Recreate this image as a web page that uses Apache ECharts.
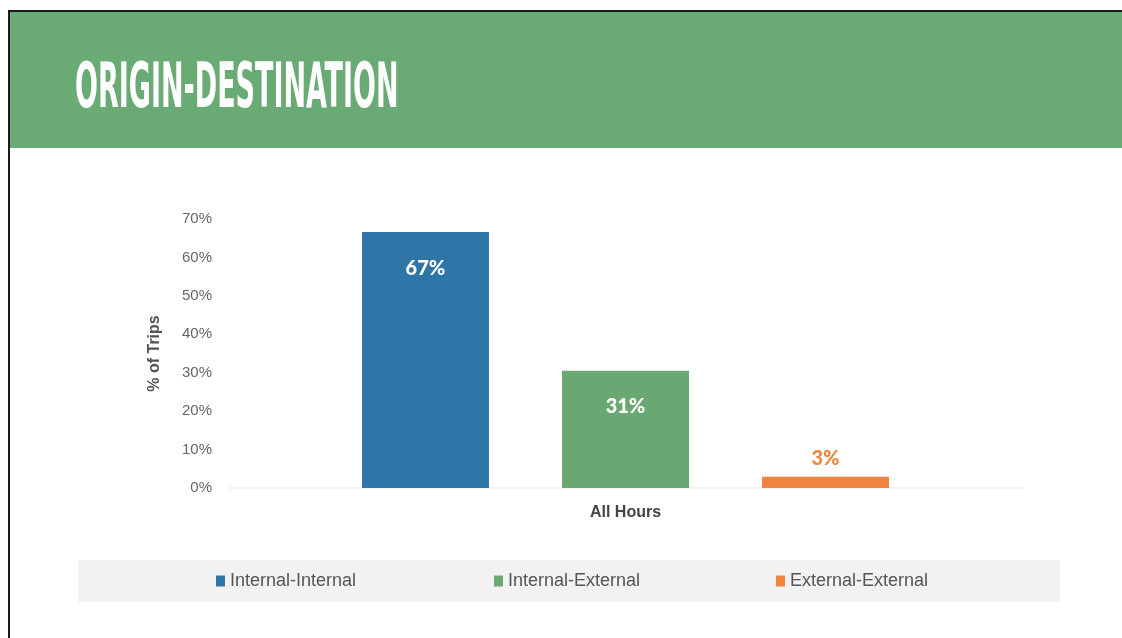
<!DOCTYPE html>
<html>
<head>
<meta charset="utf-8">
<script src="https://cdn.jsdelivr.net/npm/echarts@6/dist/echarts.min.js"></script>
<style>
html,body{margin:0;padding:0;background:#fff;}
#chart{width:1122px;height:638px;}
</style>
</head>
<body>
<div id="chart"></div>
<script>
const titleText = 'ORIGIN-DESTINATION';
const categories = ['All Hours'];
const seriesNames = ['Internal-Internal', 'Internal-External', 'External-External'];
const internalInternal = [66.6];
const internalExternal = [30.5];
const externalExternal = [2.9];
const labelTexts = ['67%', '31%', '3%'];
const yTicks = [0, 10, 20, 30, 40, 50, 60, 70];
const colors = ['#2e75a8', '#69a873', '#f08540'];

const chart = echarts.init(document.getElementById('chart'));
const seriesData = [internalInternal, internalExternal, externalExternal];

const series = seriesData.map((d, i) => ({
  name: seriesNames[i],
  type: 'bar',
  data: d,
  barWidth: 127,
  barGap: '57.5%',
  itemStyle: { color: colors[i] },
  label: {
    show: true,
    position: i === 2 ? 'top' : 'insideTop',
    distance: i === 2 ? 8 : 26,
    formatter: () => labelTexts[i],
    color: i === 2 ? colors[2] : '#ffffff',
    fontFamily: 'Lato',
    fontWeight: 900,
    fontSize: 20
  }
}));

const legendLefts = [216, 494, 776];
const legends = seriesNames.map((n, i) => ({
  data: [n],
  left: legendLefts[i],
  top: 572,
  icon: 'rect',
  itemWidth: 9,
  itemHeight: 11,
  itemGap: 5,
  padding: 0,
  selectedMode: false,
  textStyle: { fontFamily: 'Liberation Sans', fontSize: 18, color: '#555', padding: [0, 0, 0, 0] }
}));

chart.setOption({
  animation: false,
  backgroundColor: '#ffffff',
  graphic: [
    { type: 'rect', shape: { x: 8, y: 10, width: 1114, height: 2 }, style: { fill: '#1a1a1a' } },
    { type: 'rect', shape: { x: 8, y: 10, width: 2, height: 628 }, style: { fill: '#1a1a1a' } },
    { type: 'rect', shape: { x: 10, y: 12, width: 1112, height: 136 }, style: { fill: '#6aaa74' } },
    { type: 'rect', shape: { x: 78, y: 560, width: 982, height: 42 }, style: { fill: '#f2f2f2' }, z: -1 },
    {
      type: 'text', x: 75, y: 91, scaleX: 0.5, scaleY: 1.03,
      style: {
        text: titleText, fill: '#ffffff',
        font: 'bold 60px "DejaVu Sans Condensed"',
        textVerticalAlign: 'middle'
      }
    }
  ],
  legend: legends,
  grid: { left: 229, right: 100, top: 219, bottom: 150 },
  xAxis: {
    type: 'category',
    data: categories,
    axisLine: { lineStyle: { color: '#ececec', width: 1.5 } },
    axisTick: { show: false },
    axisLabel: { margin: 17, fontFamily: 'Liberation Sans', fontWeight: 'bold', fontSize: 16, color: '#444' }
  },
  yAxis: {
    type: 'value',
    min: 0,
    max: yTicks[yTicks.length - 1],
    interval: 10,
    name: '% of Trips',
    nameLocation: 'middle',
    nameGap: 66,
    nameTextStyle: { fontFamily: 'Liberation Sans', fontWeight: 'bold', fontSize: 16, color: '#555' },
    axisLine: { show: false },
    axisTick: { show: false },
    splitLine: { show: false },
    axisLabel: { margin: 17, formatter: '{value}%', fontFamily: 'Liberation Sans', fontSize: 15, color: '#666', padding: [5, 0, 0, 0] }
  },
  series: series
});
</script>
</body>
</html>
